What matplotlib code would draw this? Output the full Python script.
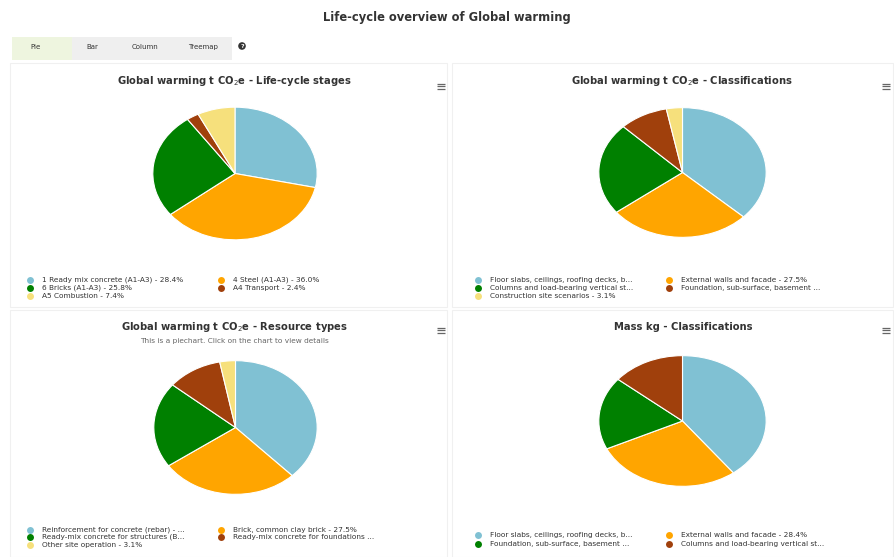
import matplotlib
matplotlib.use("Agg")
import matplotlib.pyplot as plt
from matplotlib.patches import Rectangle, Circle

W, H = 895, 557

main_title = "Life-cycle overview of Global warming"
tabs = ["Pie", "Bar", "Column", "Treemap"]

colors = ["#80c1d3", "#ffa500", "#008000", "#a0400c", "#f6e07c"]

# Panel 1: life-cycle stages
p1_title = "Global warming t CO$_2$e - Life-cycle stages"
p1_labels = ["1 Ready mix concrete (A1-A3) - 28.4%", "4 Steel (A1-A3) - 36.0%",
             "6 Bricks (A1-A3) - 25.8%", "A4 Transport - 2.4%", "A5 Combustion - 7.4%"]
p1_values = [28.4, 36.0, 25.8, 2.4, 7.4]

# Panel 2: classifications
p2_title = "Global warming t CO$_2$e - Classifications"
p2_labels = ["Floor slabs, ceilings, roofing decks, b...", "External walls and facade - 27.5%",
             "Columns and load-bearing vertical st...", "Foundation, sub-surface, basement ...",
             "Construction site scenarios - 3.1%"]
p2_values = [37.0, 27.5, 23.0, 9.4, 3.1]

# Panel 3: resource types
p3_title = "Global warming t CO$_2$e - Resource types"
p3_subtitle = "This is a piechart. Click on the chart to view details"
p3_labels = ["Reinforcement for concrete (rebar) - ...", "Brick, common clay brick - 27.5%",
             "Ready-mix concrete for structures (B...", "Ready-mix concrete for foundations ...",
             "Other site operation - 3.1%"]
p3_values = [37.8, 27.5, 20.7, 10.9, 3.1]

# Panel 4: mass classifications
p4_title = "Mass kg - Classifications"
p4_labels = ["Floor slabs, ceilings, roofing decks, b...", "External walls and facade - 28.4%",
             "Foundation, sub-surface, basement ...", "Columns and load-bearing vertical st..."]
p4_values = [39.6, 28.4, 18.0, 14.0]

fig = plt.figure(figsize=(W / 100, H / 100), dpi=100)
fig.patch.set_facecolor("white")

# overlay axes in pixel coordinates
ov = fig.add_axes([0, 0, 1, 1])
ov.set_xlim(0, W)
ov.set_ylim(H, 0)
ov.axis("off")

ov.text(447, 17, main_title, ha="center", va="center", fontsize=8.3, fontweight="bold", color="#333333")

# tab bar
ov.add_patch(Rectangle((12, 37), 220, 23, facecolor="#efefef", edgecolor="none"))
ov.add_patch(Rectangle((12, 37), 60, 23, facecolor="#eef5df", edgecolor="none"))
tab_x = [36, 92, 145, 203]
for t, x in zip(tabs, tab_x):
    ov.text(x, 47, t, ha="center", va="center", fontsize=5, color="#333333")
ov.add_patch(Circle((242, 46), 3.8, facecolor="#333333", edgecolor="none"))
ov.text(242, 46.3, "?", ha="center", va="center", fontsize=4.5, color="white", fontweight="bold")

# panel borders
panels = [(10, 63, 437, 244), (452, 63, 441, 244), (10, 310, 437, 247), (452, 310, 441, 247)]
for (x, y, w, h) in panels:
    ov.add_patch(Rectangle((x, y), w, h, facecolor="none", edgecolor="#f0f0f0", lw=0.8))

def hamburger(x, y):
    for dy in (-2.5, 0, 2.5):
        ov.plot([x - 4, x + 4], [y + dy, y + dy], color="#666666", lw=0.9, solid_capstyle="butt")

specs = [
    dict(title=p1_title, labels=p1_labels, values=p1_values, cx=235, cy=173.5, rx=83, ry=67,
         ty=81, tx=234, ham=(441, 86), leg_y=[280, 288, 296], leg_x=[(30, 42), (221, 233)]),
    dict(title=p2_title, labels=p2_labels, values=p2_values, cx=682.5, cy=172.5, rx=84.5, ry=65.5,
         ty=81, tx=682, ham=(886, 86), leg_y=[280, 288, 296], leg_x=[(478, 490), (669, 681)]),
    dict(title=p3_title, labels=p3_labels, values=p3_values, cx=235.5, cy=427.5, rx=82.5, ry=67.5,
         ty=327, tx=234, ham=(441, 330), leg_y=[530, 537, 545], leg_x=[(30, 42), (221, 233)]),
    dict(title=p4_title, labels=p4_labels, values=p4_values, cx=682.5, cy=421, rx=84.5, ry=66,
         ty=327, tx=683, ham=(886, 330), leg_y=[535, 544], leg_x=[(478, 490), (669, 681)]),
]

for s in specs:
    ax = fig.add_axes([(s["cx"] - s["rx"]) / W, 1 - (s["cy"] + s["ry"]) / H,
                       2 * s["rx"] / W, 2 * s["ry"] / H])
    n = len(s["values"])
    ax.pie(s["values"], colors=colors[:n], startangle=90, counterclock=False, radius=1,
           wedgeprops=dict(edgecolor="white", linewidth=0.8))
    ax.set_aspect("auto")
    ax.set_xlim(-1.01, 1.01)
    ax.set_ylim(-1.01, 1.01)
    ax.axis("off")

    ov.text(s["tx"], s["ty"], s["title"], ha="center", va="center", fontsize=7.2,
            fontweight="bold", color="#333333")
    hamburger(*s["ham"])
    for i, lab in enumerate(s["labels"]):
        row, col = divmod(i, 2)
        mx, tx = s["leg_x"][col]
        y = s["leg_y"][row]
        ov.plot([mx], [y], marker="o", ms=5, color=colors[i], mec="none")
        ov.text(tx, y, lab, ha="left", va="center", fontsize=5.3, color="#333333")

ov.text(234, 341, p3_subtitle, ha="center", va="center", fontsize=5.3, color="#666666")

fig.savefig("out.png", dpi=100, facecolor="white")
